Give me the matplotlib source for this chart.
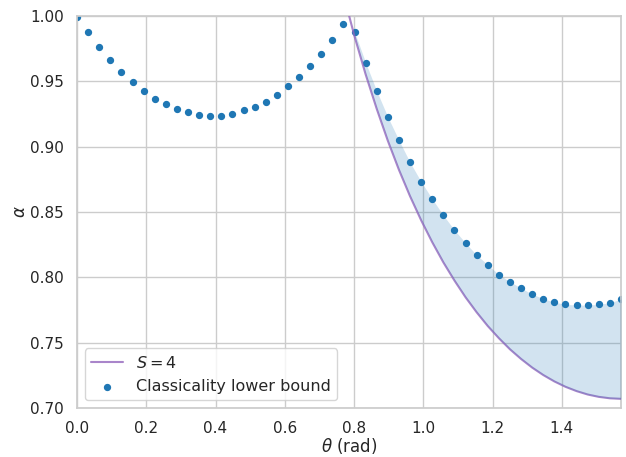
import numpy as np
import matplotlib
matplotlib.use("Agg")
import matplotlib.pyplot as plt
import seaborn as sns

# theta grid: 50 evenly spaced samples on [0, pi/2]
theta = np.linspace(0, np.pi / 2, 50)

# classicality lower bound
alpha_lb = [
    0.9995, 0.9875, 0.9765, 0.9661, 0.9571, 0.9493, 0.9426, 0.9367, 0.9324, 0.9288,
    0.9263, 0.9245, 0.9237, 0.9237, 0.9250, 0.9278, 0.9306, 0.9344, 0.9398, 0.9462,
    0.9531, 0.9616, 0.9709, 0.9819, 0.9939, 0.9878, 0.9643, 0.9426, 0.9227, 0.9049,
    0.8880, 0.8732, 0.8600, 0.8475, 0.8362, 0.8263, 0.8171, 0.8097, 0.8021, 0.7967,
    0.7918, 0.7872, 0.7837, 0.7811, 0.7794, 0.7788, 0.7788, 0.7794, 0.7806, 0.7834,
]

# S = 4 curve, samples from index 24 onwards
s4_start = 24
alpha_s4 = [
    1.0166, 0.9844, 0.9553, 0.9289, 0.9045, 0.8823, 0.8621, 0.8437, 0.8269, 0.8115,
    0.7976, 0.7848, 0.7733, 0.7628, 0.7535, 0.7450, 0.7376, 0.7310, 0.7253, 0.7204,
    0.7163, 0.7130, 0.7104, 0.7086, 0.7075, 0.7071,
]

sns.set_theme(style="whitegrid")

fig = plt.figure(figsize=(6.26, 4.57), dpi=100)
ax = fig.add_axes([0.123, 0.107, 0.869, 0.858])

th_s4 = theta[s4_start:]
lb_s4 = np.array(alpha_lb[s4_start:])
s4 = np.array(alpha_s4)

ax.plot(th_s4, s4, color="tab:purple", alpha=0.8, lw=1.5, label="$S = 4$", zorder=3)
ax.scatter(theta, alpha_lb, color="tab:blue", s=18, label="Classicality lower bound", zorder=2)
ax.fill_between(th_s4, s4, lb_s4, where=s4 <= lb_s4, interpolate=True,
                color="tab:blue", alpha=0.2, lw=0, zorder=4)

ax.set_xlim(0, np.pi / 2)
ax.set_ylim(0.70, 1.00)
ax.set_yticks([0.70, 0.75, 0.80, 0.85, 0.90, 0.95, 1.00])
ax.set_xticks([0.0, 0.2, 0.4, 0.6, 0.8, 1.0, 1.2, 1.4])
ax.tick_params(labelsize=11)
ax.set_xlabel(r"$\theta$ (rad)", fontsize=12, labelpad=0)
ax.set_ylabel(r"$\alpha$", fontsize=12, labelpad=1)
ax.legend(loc="lower left", fontsize=11.5)

fig.savefig("out.png", dpi=100)
